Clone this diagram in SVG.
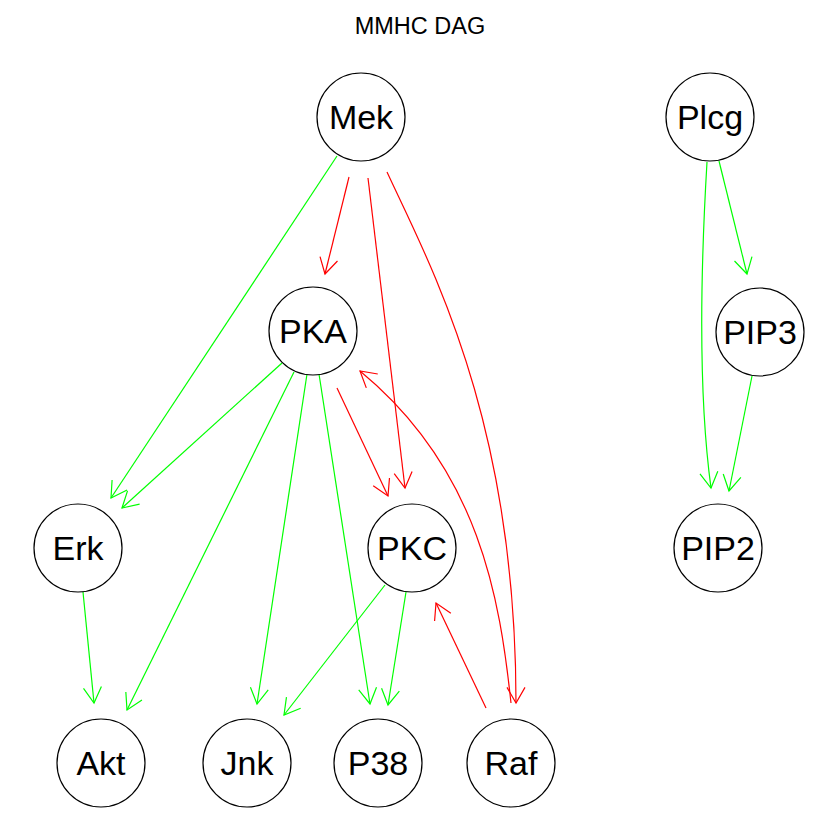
<svg xmlns="http://www.w3.org/2000/svg" width="840" height="840" viewBox="0 0 840 840">
<defs>
<style>
.node circle{fill:#fff;stroke:#000;stroke-width:1.2}
.node text{font-family:"Liberation Sans",Arial,sans-serif;font-size:34px;text-anchor:middle;fill:#000}
.title{font-family:"Liberation Sans",Arial,sans-serif;font-size:23.5px;text-anchor:middle;fill:#000}
.g{stroke:#00ff00;stroke-width:1.2;fill:none;marker-end:url(#ag)}
.r{stroke:#ff0000;stroke-width:1.2;fill:none;marker-end:url(#ar)}
.gn{stroke:#00ff00;stroke-width:1.2;fill:none}
</style>
<marker id="ag" markerUnits="userSpaceOnUse" viewBox="-18 -10 20 20" refX="0" refY="0" markerWidth="20" markerHeight="20" orient="auto" overflow="visible">
<path d="M-15.6,-9 L0,0 L-15.6,9" fill="none" stroke="#00ff00" stroke-width="1.2"/>
</marker>
<marker id="ar" markerUnits="userSpaceOnUse" viewBox="-18 -10 20 20" refX="0" refY="0" markerWidth="20" markerHeight="20" orient="auto" overflow="visible">
<path d="M-15.6,-9 L0,0 L-15.6,9" fill="none" stroke="#ff0000" stroke-width="1.2"/>
</marker>
</defs>
<rect width="840" height="840" fill="#fff"/>
<text class="title" x="420" y="34">MMHC DAG</text>
<g id="edges">
<path class="g" d="M337,156 L111,498"/>
<path class="g" d="M282,363 L122,508"/>
<path class="g" d="M294,372 L127,710"/>
<path class="g" d="M307,374 L257,704"/>
<path class="g" d="M319,374 L370,704"/>
<path class="g" d="M385,585 L284,715"/>
<path class="g" d="M406,592 L388,705"/>
<path class="g" d="M83,592 L94,703"/>
<path class="g" d="M707,162 C700,280 699,400 711,488"/>
<path class="g" d="M719,161 L747,274"/>
<path class="g" d="M752,376 L729,491"/>
<path class="r" d="M349,177 L325,274"/>
<path class="r" d="M368,178 L405,488"/>
<path class="r" d="M387,172 C430,265 516,420 516,703"/>
<path class="r" d="M337,388 L388,496"/>
<path class="r" d="M511,703 C500,600 480,470 360,371"/>
<path class="r" d="M486,708 L436,603"/>
</g>
<g id="Mek" class="node"><circle cx="361" cy="117" r="44"/><text x="361" y="129">Mek</text></g>
<g id="Plcg" class="node"><circle cx="710" cy="117" r="44"/><text x="710" y="129">Plcg</text></g>
<g id="PKA" class="node"><circle cx="313" cy="331" r="44"/><text x="313" y="343">PKA</text></g>
<g id="PIP3" class="node"><circle cx="760" cy="332" r="44"/><text x="760" y="344">PIP3</text></g>
<g id="Erk" class="node"><circle cx="78" cy="548" r="44"/><text x="78" y="560">Erk</text></g>
<g id="PKC" class="node"><circle cx="412" cy="548" r="44"/><text x="412" y="560">PKC</text></g>
<g id="PIP2" class="node"><circle cx="718" cy="548" r="44"/><text x="718" y="560">PIP2</text></g>
<g id="Akt" class="node"><circle cx="101" cy="763" r="44"/><text x="101" y="775">Akt</text></g>
<g id="Jnk" class="node"><circle cx="247" cy="763" r="44"/><text x="247" y="775">Jnk</text></g>
<g id="P38" class="node"><circle cx="378" cy="763" r="44"/><text x="378" y="775">P38</text></g>
<g id="Raf" class="node"><circle cx="511" cy="763" r="44"/><text x="511" y="775">Raf</text></g>
</svg>
